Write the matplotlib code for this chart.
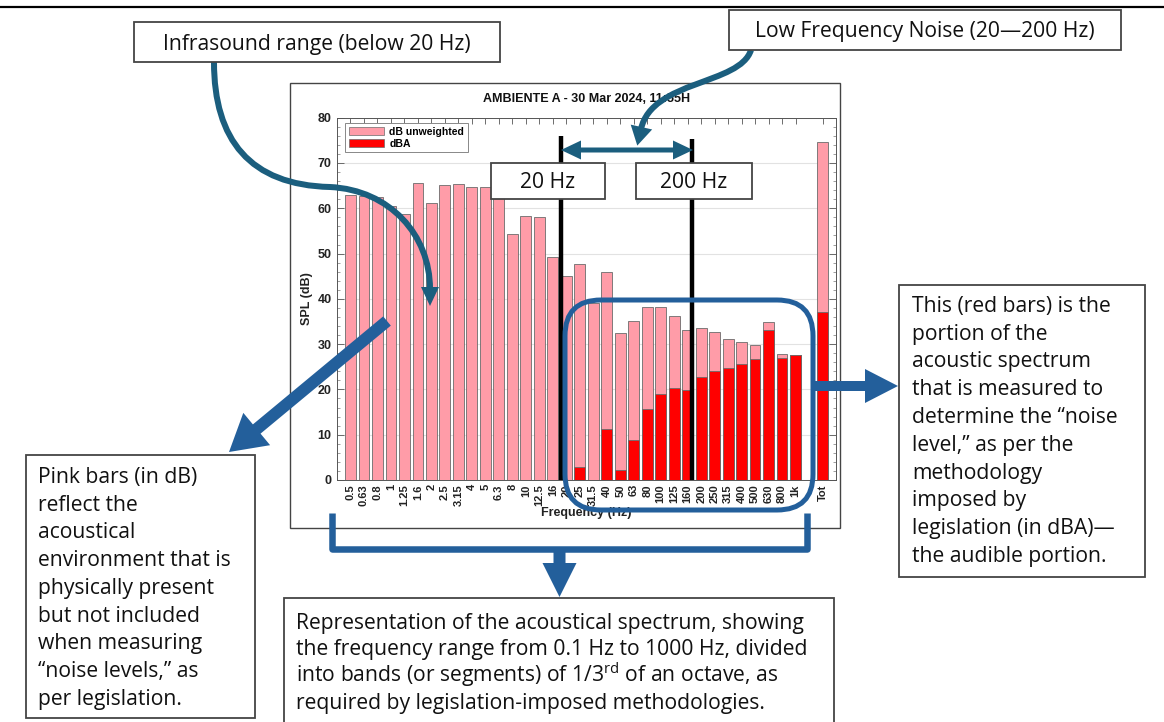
import numpy as np
import matplotlib
matplotlib.use("Agg")
import matplotlib.pyplot as plt
from matplotlib.patches import Rectangle, FancyBboxPatch, Polygon, PathPatch, Patch
from matplotlib.path import Path
from matplotlib.ticker import MultipleLocator, FixedLocator

# ---------------------------------------------------------------- data
bands = ["0.5", "0.63", "0.8", "1", "1.25", "1.6", "2", "2.5", "3.15", "4",
         "5", "6.3", "8", "10", "12.5", "16", "20", "25", "31.5", "40", "50",
         "63", "80", "100", "125", "160", "200", "250", "315", "400", "500",
         "630", "800", "1k"]
db_unweighted = [63.0, 62.8, 62.6, 60.5, 58.8, 65.5, 61.1, 65.1, 65.3, 64.7,
                 64.6, 63.0, 54.3, 58.3, 58.1, 49.3, 45.1, 47.7, 39.0, 45.9,
                 32.4, 35.0, 38.1, 38.1, 36.2, 33.2, 33.6, 32.7, 31.2, 30.5,
                 29.8, 34.9, 27.8, 27.6]
nan = np.nan
db_a = [nan, nan, nan, nan, nan, nan, nan, nan, nan, nan,
        nan, nan, nan, nan, nan, nan, nan, 2.9, nan, 11.3,
        2.2, 8.8, 15.6, 19.0, 20.3, 19.9, 22.8, 24.0, 24.7, 25.7,
        26.7, 33.1, 27.0, 27.5]
total_label = "Tot"
total_unweighted = 74.6
total_dba = 37.0

chart_title = "AMBIENTE A - 30 Mar 2024, 11:55H"

PINK = "#FF9CA8"
RED = "#FF0000"
TEAL = "#1B5E7E"
BLUE = "#235F9B"
NOTE_FONT = "Open Sans"
NOTE_SIZE = 15.2

plt.rcParams["mathtext.fontset"] = "custom"
plt.rcParams["mathtext.rm"] = NOTE_FONT
plt.rcParams["font.family"] = ["Liberation Sans", "DejaVu Sans"]

W, H = 1164, 722
fig = plt.figure(figsize=(W / 100, H / 100), dpi=100)
fig.patch.set_facecolor("white")


def frac(x0, y0, x1, y1):
    return [x0 / W, 1 - y1 / H, (x1 - x0) / W, (y1 - y0) / H]


# ---------------------------------------------------------------- spectrum chart
ax = fig.add_axes(frac(337, 117.7, 836, 480))
pos = np.arange(len(bands))
tot_pos = len(bands) + 1
all_pos = list(pos) + [tot_pos]
all_labels = bands + [total_label]
unw = db_unweighted + [total_unweighted]
wtd = db_a + [total_dba]

ax.bar(all_pos, unw, width=0.8, color=PINK, edgecolor="#6b6b6b", linewidth=0.6, zorder=2)
ax.bar(all_pos, wtd, width=0.8, color=RED, edgecolor="#6b6b6b", linewidth=0.6, zorder=3)

ax.set_xlim(-1, tot_pos + 1)
ax.set_ylim(0, 80)
ax.xaxis.set_major_locator(FixedLocator(all_pos))
ax.set_xticklabels(all_labels, rotation=90, fontsize=8, fontweight="bold", color="#222222")
ax.yaxis.set_major_locator(MultipleLocator(10))
ax.yaxis.set_minor_locator(MultipleLocator(2))
for lab in ax.get_yticklabels():
    lab.set_fontsize(9)
    lab.set_fontweight("bold")
    lab.set_color("#222222")
ax.tick_params(axis="x", direction="in", top=True, bottom=False, length=4,
               width=0.6, pad=3, colors="#555555", labelcolor="#222222")
ax.tick_params(axis="y", which="major", direction="in", left=True, right=True,
               length=5, width=0.6, pad=4, colors="#555555", labelcolor="#222222")
ax.tick_params(axis="y", which="minor", direction="in", left=True, right=True,
               length=2.5, width=0.5, colors="#777777")
ax.grid(axis="y", color="#e2e2e2", linewidth=0.8, zorder=0)
ax.set_axisbelow(True)
for s in ax.spines.values():
    s.set_color("#555555")
    s.set_linewidth(0.7)

ax.set_title(chart_title, fontsize=9, fontweight="bold", pad=11, color="#111111")
ax.set_ylabel("SPL (dB)", fontsize=9, fontweight="bold", labelpad=3, color="#222222")
ax.set_xlabel("Frequency (Hz)", fontsize=9, fontweight="bold", labelpad=1, color="#222222")

leg = ax.legend(handles=[Patch(facecolor=PINK, edgecolor="#6b6b6b", linewidth=0.5, label="dB unweighted"),
                         Patch(facecolor=RED, edgecolor="#6b6b6b", linewidth=0.5, label="dBA")],
                loc="upper left", bbox_to_anchor=(8 / 499, 1 - 5.3 / 362.3), borderaxespad=0,
                prop={"size": 7.5, "weight": "bold"}, fancybox=False, framealpha=1,
                edgecolor="#888888", handlelength=3.4, handleheight=0.85,
                labelspacing=0.2, handletextpad=0.5, borderpad=0.35)
leg.get_frame().set_linewidth(0.7)

# band-edge markers for the low-frequency-noise range
edge_20 = bands.index("20") - 0.4
edge_200 = bands.index("160") + 0.35
ax.plot([edge_20, edge_20], [0, 76], color="black", lw=3.2, zorder=6, solid_capstyle="butt")
ax.plot([edge_200, edge_200], [0, 75.3], color="black", lw=3.2, zorder=6, solid_capstyle="butt")

# ---------------------------------------------------------------- annotation layer (pixel coordinates)
ov = fig.add_axes([0, 0, 1, 1], zorder=5)
ov.set_xlim(0, W)
ov.set_ylim(H, 0)
ov.axis("off")
ov.patch.set_alpha(0)

PT = 0.72  # points per pixel at 100 dpi


def box(x0, y0, x1, y1, z=7):
    ov.add_patch(Rectangle((x0, y0), x1 - x0, y1 - y0, facecolor="white",
                           edgecolor="#444444", lw=1.3, zorder=z))


def note(x, y, s, ha="left", z=8):
    ov.text(x, y, s, ha=ha, va="baseline", fontsize=NOTE_SIZE,
            family=NOTE_FONT, color="#111111", zorder=z)


def block_arrow(tail, tip, shaft_w, head_len, head_w, color, z=6):
    t = np.array(tail, float)
    p = np.array(tip, float)
    d = p - t
    u = d / np.hypot(*d)
    n = np.array([-u[1], u[0]])
    b = p - u * head_len
    pts = [t + n * shaft_w / 2, b + n * shaft_w / 2, b + n * head_w / 2, p,
           b - n * head_w / 2, b - n * shaft_w / 2, t - n * shaft_w / 2]
    ov.add_patch(Polygon(pts, closed=True, facecolor=color, edgecolor="none", zorder=z))


def curved_arrow(verts, lw_px, head_len, head_w, color, z=6):
    codes = [Path.MOVETO] + [Path.CURVE4] * (len(verts) - 1)
    ov.add_patch(PathPatch(Path(verts, codes), fill=False, edgecolor=color,
                           lw=lw_px * PT, capstyle="butt", zorder=z))
    end = np.array(verts[-1], float)
    ctrl = np.array(verts[-2], float)
    u = (end - ctrl) / np.hypot(*(end - ctrl))
    n = np.array([-u[1], u[0]])
    base = end - u * 2
    tip = end + u * head_len
    ov.add_patch(Polygon([base + n * head_w / 2, tip, base - n * head_w / 2],
                         closed=True, facecolor=color, edgecolor="none", zorder=z))


def double_arrow(x0, x1, y, shaft_w, head_len, head_w, color, z=6):
    pts = [(x0, y), (x0 + head_len, y - head_w / 2), (x0 + head_len, y - shaft_w / 2),
           (x1 - head_len, y - shaft_w / 2), (x1 - head_len, y - head_w / 2), (x1, y),
           (x1 - head_len, y + head_w / 2), (x1 - head_len, y + shaft_w / 2),
           (x0 + head_len, y + shaft_w / 2), (x0 + head_len, y + head_w / 2)]
    ov.add_patch(Polygon(pts, closed=True, facecolor=color, edgecolor="none", zorder=z))


# rule at the top of the page
ov.plot([0, W], [7, 7], color="black", lw=2.2 * PT, zorder=2)

# frame around the chart
ov.add_patch(Rectangle((290, 83), 550, 445, fill=False, edgecolor="#444444", lw=1.0, zorder=1))

# range markers and labels
double_arrow(561, 693, 150, 5, 20, 19, TEAL)
box(491, 163, 605, 199)
note(548, 188, "20 Hz", ha="center")
box(636, 163, 752, 199)
note(694, 188, "200 Hz", ha="center")

# infrasound callout
box(134, 22, 500, 62)
note(317, 50, "Infrasound range (below 20 Hz)", ha="center")
curved_arrow([(214, 62), (214, 140), (250, 185), (330, 187),
              (390, 190), (430, 235), (430, 289)], 6, 17, 18, TEAL)

# low-frequency-noise callout
box(729, 10, 1121, 50)
note(925, 37, "Low Frequency Noise (20\u2014200 Hz)", ha="center")
curved_arrow([(751, 50), (740, 85), (652, 80), (641, 129)], 6, 17, 22, TEAL)

# audible band outline
ov.add_patch(FancyBboxPatch((565, 300), 248, 210, boxstyle="round,pad=0,rounding_size=36",
                            fill=False, edgecolor=BLUE, lw=5 * PT, zorder=6))
block_arrow((813, 386), (898, 386), 10, 33, 34, BLUE)

# pink-bar callout
block_arrow((387, 321), (229, 452), 12, 36, 42, BLUE)
box(26, 455, 255, 718)
left_lines = ["Pink bars (in dB)", "reflect the", "acoustical",
              "environment that is", "physically present", "but not included",
              "when measuring", "\u201cnoise levels,\u201d as", "per legislation."]
for i, s in enumerate(left_lines):
    note(38, 483 + 27.75 * i, s)

# red-bar callout
box(899, 285, 1145, 577)
right_lines = ["This (red bars) is the", "portion of the", "acoustic spectrum",
               "that is measured to", "determine the \u201cnoise",
               "level,\u201d as per the", "methodology", "imposed by",
               "legislation (in dBA)\u2014", "the audible portion."]
for i, s in enumerate(right_lines):
    note(912, 312 + 27.75 * i, s)

# bracket under the frequency axis
ov.plot([332, 332, 807, 807], [513, 549, 549, 513], color=BLUE, lw=6.5 * PT,
        solid_joinstyle="round", solid_capstyle="butt", zorder=6)
block_arrow((559.5, 549), (559.5, 597), 12, 34, 34, BLUE)

box(284, 598, 834, 740)
bottom_lines = ["Representation of the acoustical spectrum, showing",
                "the frequency range from 0.1 Hz to 1000 Hz, divided",
                "into bands (or segments) of 1/$3^{\\mathrm{rd}}$ of an octave, as",
                "required by legislation-imposed methodologies."]
for i, s in enumerate(bottom_lines):
    note(296, 628.5 + 26.7 * i, s)

fig.savefig("out.png", dpi=100, facecolor="white")
